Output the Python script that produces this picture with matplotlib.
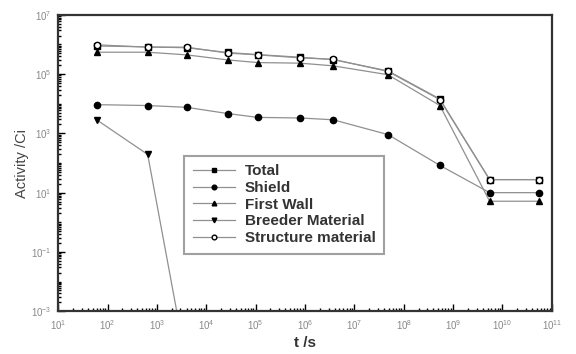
import numpy as np
import matplotlib
matplotlib.use("Agg")
import matplotlib.pyplot as plt
from matplotlib.ticker import FixedLocator, LogLocator, NullFormatter

# time points (s)
t = [60, 650, 4000, 2.7e4, 1.1e5, 8e5, 3.7e6, 4.8e7, 5.4e8, 5.5e9, 5.6e10]

# activities (Ci), as log10 values
total_log = [5.95, 5.92, 5.89, 5.73, 5.66, 5.57, 5.49, 5.11, 4.16, 1.44, 1.44]
shield_log = [3.97, 3.94, 3.88, 3.67, 3.54, 3.52, 3.46, 2.96, 1.92, 1.00, 1.00]
first_wall_log = [5.74, 5.74, 5.65, 5.48, 5.39, 5.37, 5.28, 4.98, 3.94, 0.71, 0.71]
breeder_log = [3.46, 2.29, -4.8]
structure_log = [5.99, 5.91, 5.91, 5.71, 5.65, 5.55, 5.50, 5.09, 4.14, 1.44, 1.44]

y_ticks = [1e-3, 1e-1, 1e1, 1e3, 1e5, 1e7]
x_ticks = [10.0 ** k for k in range(1, 12)]

plt.rcParams['font.family'] = ['Liberation Sans', 'DejaVu Sans']

fig = plt.figure(figsize=(5.76, 3.54), dpi=100)
ax = fig.add_axes([0.101, 0.121, 0.857, 0.837])

line_kw = dict(color='#909090', lw=0.9, markeredgecolor='black', markersize=4.5)
ax.plot(t, 10.0 ** np.array(total_log), marker='s', markerfacecolor='black',
        label='Total', **line_kw)
ax.plot(t, 10.0 ** np.array(shield_log), marker='o', markerfacecolor='black',
        label='Shield', **line_kw)
ax.plot(t, 10.0 ** np.array(first_wall_log), marker='^', markerfacecolor='black',
        label='First Wall', **line_kw)
ax.plot(t[:len(breeder_log)], 10.0 ** np.array(breeder_log), marker='v',
        markerfacecolor='black', label='Breeder Material', **line_kw)
ax.plot(t, 10.0 ** np.array(structure_log), marker='o', markerfacecolor='white',
        label='Structure material', **line_kw)

ax.set_xscale('log')
ax.set_yscale('log')
ax.set_xlim(1e1, 1e11)
ax.set_ylim(1e-3, 1e7)

ax.xaxis.set_major_locator(FixedLocator(x_ticks))
ax.xaxis.set_minor_locator(LogLocator(base=10, subs=np.arange(2, 10), numticks=100))
ax.xaxis.set_minor_formatter(NullFormatter())
ax.yaxis.set_major_locator(FixedLocator(y_ticks))
ax.yaxis.set_minor_locator(LogLocator(base=10, subs=np.arange(1, 10), numticks=100))
ax.yaxis.set_minor_formatter(NullFormatter())

ax.tick_params(which='both', direction='in', top=False, right=False,
               labelsize=7, labelcolor='#888888', width=1.0)
ax.tick_params(which='major', length=5, pad=5)
ax.tick_params(which='minor', length=2.5)

for side in ax.spines.values():
    side.set_linewidth(1.6)
    side.set_color('#333333')

ax.set_xlabel('t /s', fontsize=11, fontweight='bold', color='#333333', labelpad=3)
ax.set_ylabel('Activity /Ci', fontsize=10.5, color='#444444', labelpad=1)

# legend box sits in the middle of the plot
leg = ax.legend(loc='upper left', bbox_to_anchor=(0.24, 0.55),
                frameon=True, fancybox=False, handlelength=2.8, markerscale=0.75,
                borderpad=0.55, labelspacing=0.18, handletextpad=0.6,
                prop={'weight': 'bold', 'size': 11})
leg.get_frame().set_edgecolor('#888888')
leg.get_frame().set_linewidth(1.5)
for txt in leg.get_texts():
    txt.set_color('#333333')

fig.savefig('out.png', dpi=100)
